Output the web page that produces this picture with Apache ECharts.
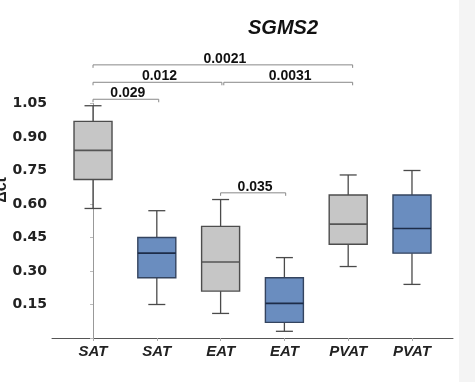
<!DOCTYPE html>
<html>
<head>
<meta charset="utf-8">
<script src="https://cdn.jsdelivr.net/npm/echarts@6/dist/echarts.min.js"></script>
<style>
html,body{margin:0;padding:0;background:#fff;}
#chart{width:475px;height:382px;}
</style>
</head>
<body>
<div id="chart"></div>
<script>
// ---- data ----
const categories = ['SAT', 'SAT', 'EAT', 'EAT', 'PVAT', 'PVAT'];
const minVals    = [0.58, 0.15, 0.11, 0.03, 0.32, 0.24];
const q1Vals     = [0.71, 0.27, 0.21, 0.07, 0.42, 0.38];
const medianVals = [0.84, 0.38, 0.34, 0.155, 0.51, 0.49];
const q3Vals     = [0.97, 0.45, 0.50, 0.27, 0.64, 0.64];
const maxVals    = [1.04, 0.57, 0.62, 0.36, 0.73, 0.75];
const yTicks     = [0.15, 0.30, 0.45, 0.60, 0.75, 0.90, 1.05];

// significance brackets (category positions, y level, label)
const pLabels = ['0.0021', '0.012', '0.0031', '0.029', '0.035'];
const pStart  = [0, 0, 2.05, 0, 2];
const pEnd    = [4.07, 2.02, 4.07, 1.03, 3.02];
const pLevel  = [1.223, 1.145, 1.145, 1.069, 0.65];

// ---- styles ----
const fills   = ['#c6c6c6', '#6a8dbf', '#c6c6c6', '#6a8dbf', '#c6c6c6', '#6a8dbf'];
const borders = ['#4d4d4d', '#34445f', '#4d4d4d', '#34445f', '#4d4d4d', '#34445f'];
const medians = ['#555555', '#1d2c48', '#555555', '#1d2c48', '#555555', '#1d2c48'];

const boxData = categories.map((c, i) => [i, minVals[i], q1Vals[i], medianVals[i], q3Vals[i], maxVals[i]]);
const bracketData = pLabels.map((l, i) => [pStart[i], pEnd[i], pLevel[i], i]);

const chart = echarts.init(document.getElementById('chart'));
chart.setOption({
  backgroundColor: '#ffffff',
  animation: false,
  title: {
    text: 'SGMS2',
    left: 278,
    top: 13,
    textAlign: 'center',
    textStyle: {fontFamily: 'Liberation Sans, Arial', fontWeight: 'bold', fontStyle: 'italic', fontSize: 20, color: '#111'}
  },
  graphic: [
    {type: 'rect', left: 459, top: 0, shape: {width: 16, height: 382}, style: {fill: '#f4f4f4'}, silent: true, z: -1},
    {type: 'text', x: 2, y: 190, rotation: Math.PI / 2,
     style: {text: 'Δct', fontFamily: 'Liberation Sans, Arial', fontWeight: 'bold', fontSize: 16, fill: '#222', align: 'center', verticalAlign: 'middle'}}
  ],
  grid: {left: 52, top: 103.5, width: 401, bottom: 44, containLabel: false},
  xAxis: {
    type: 'value',
    min: -0.643,
    max: 5.643,
    splitLine: {show: false},
    axisLine: {show: true, lineStyle: {color: '#555', width: 1}},
    axisTick: {show: true, length: 3, lineStyle: {color: '#aaa'}, customValues: categories.map((c, i) => i)},
    axisLabel: {
      customValues: categories.map((c, i) => i),
      formatter: v => categories[Math.round(v)],
      fontFamily: 'Liberation Sans, Arial', fontWeight: 'bold', fontStyle: 'italic', fontSize: 15, color: '#222', margin: 6
    }
  },
  yAxis: {
    type: 'value',
    min: 0,
    max: 1.05,
    interval: 0.15,
    splitLine: {show: false},
    axisLine: {show: true, lineStyle: {color: '#999', width: 1}},
    axisTick: {show: true, length: 3, lineStyle: {color: '#bbb'}},
    axisLabel: {
      formatter: v => (yTicks.some(t => Math.abs(t - v) < 1e-6) ? v.toFixed(2) : ''),
      fontFamily: 'DejaVu Sans', fontWeight: 'bold', fontSize: 14, color: '#222', margin: 5
    }
  },
  series: [
    {
      type: 'custom',
      data: boxData,
      encode: {x: 0, y: [1, 2, 3, 4, 5]},
      renderItem: function (params, api) {
        const i = api.value(0);
        const pMin = api.coord([i, api.value(1)]);
        const pQ1 = api.coord([i, api.value(2)]);
        const pMed = api.coord([i, api.value(3)]);
        const pQ3 = api.coord([i, api.value(4)]);
        const pMax = api.coord([i, api.value(5)]);
        const cx = pMin[0];
        const hw = 19, cw = 8.5;
        const line = (x1, y1, x2, y2, color, w) => ({
          type: 'line', shape: {x1, y1, x2, y2}, style: {stroke: color, lineWidth: w}
        });
        const wc = '#4a4a4a';
        return {
          type: 'group',
          children: [
            line(cx, pMax[1], cx, pQ3[1], wc, 1.3),
            line(cx, pQ1[1], cx, pMin[1], wc, 1.3),
            line(cx - cw, pMax[1], cx + cw, pMax[1], wc, 1.3),
            line(cx - cw, pMin[1], cx + cw, pMin[1], wc, 1.3),
            {type: 'rect', shape: {x: cx - hw, y: pQ3[1], width: 2 * hw, height: pQ1[1] - pQ3[1]},
             style: {fill: fills[i], stroke: borders[i], lineWidth: 1.4}},
            line(cx - hw, pMed[1], cx + hw, pMed[1], medians[i], 1.6)
          ]
        };
      }
    },
    {
      type: 'custom',
      clip: false,
      data: bracketData,
      encode: {x: [0, 1], y: 2},
      renderItem: function (params, api) {
        const k = api.value(3);
        const a = api.coord([api.value(0), api.value(2)]);
        const b = api.coord([api.value(1), api.value(2)]);
        const c = '#888';
        return {
          type: 'group',
          children: [
            {type: 'line', shape: {x1: a[0], y1: a[1], x2: b[0], y2: b[1]}, style: {stroke: c, lineWidth: 1}},
            {type: 'line', shape: {x1: a[0], y1: a[1], x2: a[0], y2: a[1] + 3}, style: {stroke: c, lineWidth: 1}},
            {type: 'line', shape: {x1: b[0], y1: b[1], x2: b[0], y2: b[1] + 3}, style: {stroke: c, lineWidth: 1}},
            {type: 'text', x: (a[0] + b[0]) / 2 + 2, y: a[1] + 1,
             style: {text: pLabels[k], fontFamily: 'Liberation Sans, Arial', fontWeight: 'bold', fontSize: 14,
                     fill: '#111', align: 'center', verticalAlign: 'bottom'}}
          ]
        };
      }
    }
  ]
});
</script>
</body>
</html>
